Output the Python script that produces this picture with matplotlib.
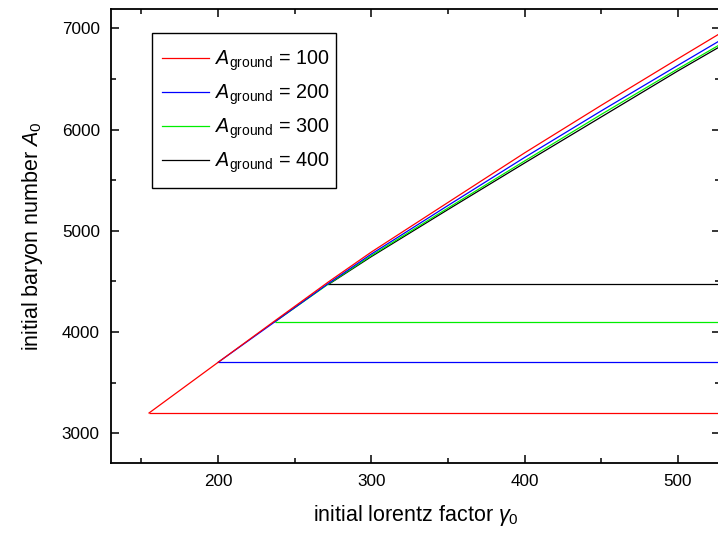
import matplotlib
matplotlib.use("Agg")
import matplotlib.pyplot as plt
from matplotlib.patches import Rectangle
from matplotlib.ticker import MultipleLocator

plt.rcParams["font.family"] = ["Liberation Sans", "DejaVu Sans"]
plt.rcParams["mathtext.fontset"] = "custom"
plt.rcParams["mathtext.rm"] = "Liberation Sans"
plt.rcParams["mathtext.it"] = "Liberation Sans:italic"

# initial lorentz factor gamma_0 vs initial baryon number A_0, one curve per A_ground
a_ground = [100, 200, 300, 400]
colors = ["#ff0000", "#0000ff", "#00ee00", "#000000"]

gamma_100 = [155, 200, 237, 272, 300, 350, 400, 450, 500, 528]
a0_100 = [3200, 3700, 4110, 4495, 4790, 5280, 5770, 6240, 6700, 6955]

gamma_200 = [200, 237, 272, 300, 350, 400, 450, 500, 528]
a0_200 = [3700, 4100, 4480, 4770, 5250, 5725, 6185, 6635, 6885]

gamma_300 = [237, 272, 300, 350, 400, 450, 500, 528]
a0_300 = [4100, 4474, 4755, 5225, 5690, 6150, 6600, 6845]

gamma_400 = [272, 300, 350, 400, 450, 500, 528]
a0_400 = [4470, 4745, 5210, 5670, 6125, 6580, 6825]

# threshold levels (horizontal lines) and where they start
levels = [3200, 3700, 4100, 4470]
level_start = [155, 200, 237, 272]

curves = [(gamma_100, a0_100), (gamma_200, a0_200), (gamma_300, a0_300), (gamma_400, a0_400)]

fig = plt.figure(figsize=(7.18, 5.34), dpi=100)
ax = fig.add_axes([111 / 718, 1 - 463 / 534, 609 / 718, 454.5 / 534])

for i, ((gx, ay), ag, c) in enumerate(zip(curves, a_ground, colors)):
    ax.plot(gx, ay, color=c, lw=0.9, zorder=5 - i,
            label=r"$A_{\mathrm{ground}}$ = %d" % ag)

for i, (lev, x0, c) in enumerate(zip(levels, level_start, colors)):
    ax.hlines(lev, x0, 540, color=c, lw=0.9, zorder=5 - i)

ax.set_xlim(130.2, 527.4)
ax.set_ylim(2706, 7196)

ax.xaxis.set_major_locator(MultipleLocator(100))
ax.xaxis.set_minor_locator(MultipleLocator(50))
ax.yaxis.set_major_locator(MultipleLocator(1000))
ax.yaxis.set_minor_locator(MultipleLocator(500))
ax.tick_params(which="both", direction="in", top=True, right=True, width=1.1, labelsize=12.3)
ax.tick_params(which="major", length=6, pad=8)
ax.tick_params(which="minor", length=3.5)
for s in ax.spines.values():
    s.set_linewidth(1.3)

ax.set_xlabel(r"initial lorentz factor $\gamma_0$", fontsize=15.5, labelpad=10)
ax.set_ylabel(r"initial baryon number $A_0$", fontsize=15.5, labelpad=12)

# legend without its own frame; a box with the original's padding is drawn round it
leg = ax.legend(loc="upper left", bbox_to_anchor=(162 / 718, 1 - 49 / 534),
                bbox_transform=fig.transFigure, fontsize=14.2, frameon=False,
                handlelength=2.4, handletextpad=0.3, labelspacing=0.47,
                borderpad=0, borderaxespad=0)
fig.canvas.draw()
bb = leg.get_window_extent()
box = Rectangle((bb.x0 - 10, bb.y0 - 13), bb.width + 16, bb.height + 29,
                transform=None, fill=True, facecolor="white", edgecolor="black",
                lw=1.0, zorder=9)
ax.add_artist(box)
leg.set_zorder(10)

fig.savefig("out.png", dpi=100)
